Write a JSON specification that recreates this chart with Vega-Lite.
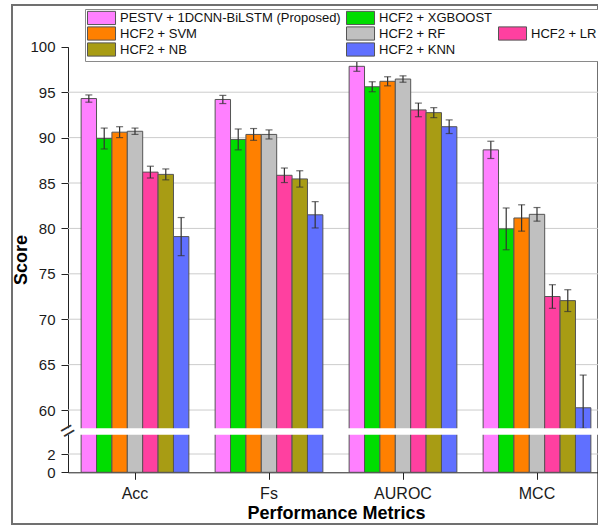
{
  "$schema": "https://vega.github.io/schema/vega-lite/v6.json",
  "width": 586,
  "height": 519,
  "autosize": "none",
  "padding": {"left": 12, "top": 5, "right": 0, "bottom": 1},
  "background": "white",
  "config": {
    "font": "Liberation Sans",
    "view": {"stroke": "#707070", "strokeWidth": 2},
    "axis": {"domainColor": "#222222", "tickColor": "#222222", "labelColor": "#1a1a1a", "titleColor": "#000000", "grid": false}
  },
  "layer": [
    {
      "data": {"values": [{"v": 95}, {"v": 90}, {"v": 85}, {"v": 80}, {"v": 75}, {"v": 70}, {"v": 65}, {"v": 60}, {"v": 2}]},
      "mark": {"type": "rule", "color": "#cccccc", "strokeWidth": 1},
      "encoding": {
        "y": {"field": "v", "type": "quantitative", "title": "Score"},
        "x": {"datum": 0, "type": "quantitative", "scale": {"domain": [0, 1], "range": [56, 586]}, "axis": null},
        "x2": {"datum": 1}
      }
    },
    {
      "data": {"values": [
        {"metric": "Acc", "model": "PESTV + 1DCNN-BiLSTM (Proposed)", "value": 94.3, "lo": 93.9, "hi": 94.7},
        {"metric": "Acc", "model": "HCF2 + XGBOOST", "value": 89.9, "lo": 88.75, "hi": 91.05},
        {"metric": "Acc", "model": "HCF2 + SVM", "value": 90.6, "lo": 90.0, "hi": 91.2},
        {"metric": "Acc", "model": "HCF2 + RF", "value": 90.7, "lo": 90.35, "hi": 91.05},
        {"metric": "Acc", "model": "HCF2 + LR", "value": 86.2, "lo": 85.55, "hi": 86.85},
        {"metric": "Acc", "model": "HCF2 + NB", "value": 85.95, "lo": 85.35, "hi": 86.55},
        {"metric": "Acc", "model": "HCF2 + KNN", "value": 79.1, "lo": 77.0, "hi": 81.2},
        {"metric": "Fs", "model": "PESTV + 1DCNN-BiLSTM (Proposed)", "value": 94.2, "lo": 93.75, "hi": 94.65},
        {"metric": "Fs", "model": "HCF2 + XGBOOST", "value": 89.8, "lo": 88.65, "hi": 90.95},
        {"metric": "Fs", "model": "HCF2 + SVM", "value": 90.35, "lo": 89.7, "hi": 91.0},
        {"metric": "Fs", "model": "HCF2 + RF", "value": 90.35, "lo": 89.85, "hi": 90.85},
        {"metric": "Fs", "model": "HCF2 + LR", "value": 85.85, "lo": 85.05, "hi": 86.65},
        {"metric": "Fs", "model": "HCF2 + NB", "value": 85.45, "lo": 84.55, "hi": 86.35},
        {"metric": "Fs", "model": "HCF2 + KNN", "value": 81.5, "lo": 80.05, "hi": 82.95},
        {"metric": "AUROC", "model": "PESTV + 1DCNN-BiLSTM (Proposed)", "value": 97.85, "lo": 97.3, "hi": 98.4},
        {"metric": "AUROC", "model": "HCF2 + XGBOOST", "value": 95.6, "lo": 95.05, "hi": 96.15},
        {"metric": "AUROC", "model": "HCF2 + SVM", "value": 96.2, "lo": 95.7, "hi": 96.7},
        {"metric": "AUROC", "model": "HCF2 + RF", "value": 96.45, "lo": 96.1, "hi": 96.8},
        {"metric": "AUROC", "model": "HCF2 + LR", "value": 93.05, "lo": 92.3, "hi": 93.8},
        {"metric": "AUROC", "model": "HCF2 + NB", "value": 92.75, "lo": 92.2, "hi": 93.3},
        {"metric": "AUROC", "model": "HCF2 + KNN", "value": 91.2, "lo": 90.45, "hi": 91.95},
        {"metric": "MCC", "model": "PESTV + 1DCNN-BiLSTM (Proposed)", "value": 88.65, "lo": 87.7, "hi": 89.6},
        {"metric": "MCC", "model": "HCF2 + XGBOOST", "value": 79.95, "lo": 77.65, "hi": 82.25},
        {"metric": "MCC", "model": "HCF2 + SVM", "value": 81.15, "lo": 79.7, "hi": 82.6},
        {"metric": "MCC", "model": "HCF2 + RF", "value": 81.55, "lo": 80.8, "hi": 82.3},
        {"metric": "MCC", "model": "HCF2 + LR", "value": 72.5, "lo": 71.2, "hi": 73.8},
        {"metric": "MCC", "model": "HCF2 + NB", "value": 72.05, "lo": 70.85, "hi": 73.25},
        {"metric": "MCC", "model": "HCF2 + KNN", "value": 60.25, "lo": 56.65, "hi": 63.85}
      ]},
      "encoding": {
        "x": {
          "field": "metric", "type": "nominal", "sort": ["Acc", "Fs", "AUROC", "MCC"],
          "scale": {"range": [56, 592], "paddingInner": 0.196, "paddingOuter": 0.098},
          "axis": {"offset": -51.7, "labelAngle": 0, "labelFontSize": 16, "tickSize": 7, "labelPadding": 6, "title": "Performance Metrics", "titleFontSize": 18, "titleFontWeight": "bold", "titlePadding": 3}
        },
        "xOffset": {
          "field": "model", "type": "nominal",
          "sort": ["PESTV + 1DCNN-BiLSTM (Proposed)", "HCF2 + XGBOOST", "HCF2 + SVM", "HCF2 + RF", "HCF2 + LR", "HCF2 + NB", "HCF2 + KNN"],
          "scale": {"paddingInner": 0, "paddingOuter": 0}
        }
      },
      "layer": [
        {
          "mark": {"type": "bar", "stroke": "#555555", "strokeWidth": 1},
          "encoding": {
            "y": {
              "field": "value", "type": "quantitative", "stack": null, "title": "Score",
              "scale": {"domain": [0, 4.1, 58, 100], "range": [467.3, 429.8, 423.2, 41.8], "nice": false, "zero": false},
              "axis": {"values": [0, 2, 60, 65, 70, 75, 80, 85, 90, 95, 100], "offset": -56, "tickSize": 7, "labelFontSize": 15, "labelPadding": 6, "title": "Score", "titleFontSize": 18, "titleFontWeight": "bold", "titlePadding": -1}
            },
            "color": {
              "field": "model", "type": "nominal",
              "scale": {
                "domain": ["PESTV + 1DCNN-BiLSTM (Proposed)", "HCF2 + SVM", "HCF2 + NB", "HCF2 + XGBOOST", "HCF2 + RF", "HCF2 + KNN", " ", "HCF2 + LR"],
                "range": ["#FF80FF", "#FF8000", "#A89C14", "#00DD00", "#C0C0C0", "#6070FF", "#FFFFFF", "#FF40A0"]
              },
              "legend": {
                "title": null, "orient": "none", "legendX": 73, "legendY": 4, "columns": 3,
                "symbolType": "M-1,-1.1H3.67V1.1H-1Z", "symbolSize": 144, "symbolStrokeColor": "#555555", "symbolStrokeWidth": 1, "symbolOpacity": 1,
                "labelFontSize": 13, "labelColor": "#111111", "labelLimit": 400, "labelOffset": 20,
                "columnPadding": 3, "rowPadding": -3, "padding": 2,
                "strokeColor": "#8a8a8a", "fillColor": "white",
                "encode": {"symbols": {"update": {"opacity": {"signal": "datum.value === ' ' ? 0 : 1"}}}}
              }
            }
          }
        },
        {
          "mark": {"type": "rule", "color": "#333333", "strokeWidth": 1.2},
          "encoding": {
            "y": {"field": "lo", "type": "quantitative", "title": "Score"},
            "y2": {"field": "hi"}
          }
        },
        {
          "mark": {"type": "tick", "color": "#333333", "thickness": 1.2, "size": 7, "orient": "horizontal"},
          "encoding": {"y": {"field": "lo", "type": "quantitative", "title": "Score"}}
        },
        {
          "mark": {"type": "tick", "color": "#333333", "thickness": 1.2, "size": 7, "orient": "horizontal"},
          "encoding": {"y": {"field": "hi", "type": "quantitative", "title": "Score"}}
        }
      ]
    },
    {
      "data": {"values": [{"label": "="}]},
      "layer": [
        {
          "mark": {"type": "rect", "fill": "white"},
          "encoding": {
            "x": {"datum": -0.012, "type": "quantitative", "scale": {"domain": [0, 1], "range": [56, 586]}, "axis": null},
            "x2": {"datum": 1.05},
            "y": {"datum": 4.1, "type": "quantitative", "title": "Score"},
            "y2": {"datum": 58}
          }
        },
        {
          "mark": {"type": "text", "fontSize": 24, "angle": 330, "align": "center", "baseline": "middle", "color": "#333333"},
          "encoding": {
            "x": {"datum": 0, "type": "quantitative", "scale": {"domain": [0, 1], "range": [56, 586]}, "axis": null},
            "y": {"datum": 31, "type": "quantitative", "title": "Score"},
            "text": {"field": "label"}
          }
        }
      ]
    }
  ],
  "resolve": {"scale": {"x": "independent"}}
}
